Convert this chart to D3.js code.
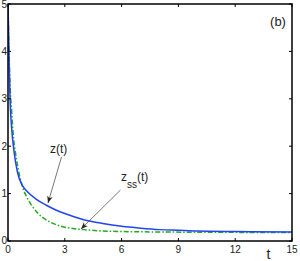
<!DOCTYPE html>
<html><head><meta charset="utf-8">
<script src="https://cdn.jsdelivr.net/npm/d3@7"></script>
<style>body{margin:0;background:#fff}svg{display:block}text{font-family:"Liberation Sans",Arial,sans-serif}</style>
</head><body>
<svg id="c" width="300" height="261"></svg>
<script>
const tZ = [0, 0.05, 0.1, 0.2, 0.3, 0.5, 0.75, 1, 1.5, 2, 2.5, 3, 4, 5, 6, 7, 8, 9, 10, 12, 15];
const zVals = [5, 4.0, 3.1, 2.35, 1.95, 1.45, 1.18, 1.05, 0.88, 0.76, 0.66, 0.58, 0.45, 0.37, 0.31, 0.27, 0.24, 0.225, 0.21, 0.2, 0.19];
const tSS = [0, 0.05, 0.1, 0.2, 0.3, 0.4, 0.6, 0.8, 1, 1.2, 1.5, 2, 2.5, 3, 3.5, 4, 5, 6, 8, 10, 15];
const zssVals = [5, 4.1, 3.4, 2.7, 2.15, 1.85, 1.4, 1.1, 0.92, 0.78, 0.62, 0.45, 0.35, 0.29, 0.26, 0.24, 0.21, 0.2, 0.19, 0.185, 0.18];
const xTicks = [0, 3, 6, 9, 12, 15];
const yTicks = [0, 1, 2, 3, 4, 5];

const svg = d3.select("#c");
const L = 8, R = 292, T = 4, B = 241;
const x = d3.scaleLinear().domain([0, 15]).range([L, R]);
const y = d3.scaleLinear().domain([0, 5]).range([B, T]);

const defs = svg.append("defs");
defs.append("marker").attr("id", "ah").attr("viewBox", "0 0 10 10").attr("refX", 10).attr("refY", 5)
  .attr("markerWidth", 7).attr("markerHeight", 7).attr("markerUnits", "userSpaceOnUse").attr("orient", "auto")
  .append("path").attr("d", "M0,1 L10,5 L0,9 L3,5 Z").attr("fill", "#222");

const clip = defs.append("clipPath").attr("id", "pc");
clip.append("rect").attr("x", L).attr("y", T).attr("width", R - L).attr("height", B - T);

const line = d3.line().x(d => x(d[0])).y(d => y(d[1])).curve(d3.curveMonotoneX);
const g = svg.append("g").attr("clip-path", "url(#pc)");
g.append("path").datum(tSS.map((t, i) => [t, zssVals[i]])).attr("d", line)
  .attr("fill", "none").attr("stroke", "#22aa22").attr("stroke-width", 1.5).attr("stroke-dasharray", "5,2,1.5,2");
g.append("path").datum(tZ.map((t, i) => [t, zVals[i]])).attr("d", line)
  .attr("fill", "none").attr("stroke", "#2244ee").attr("stroke-width", 1.5);

// axes box with inward ticks
const ax = svg.append("g").attr("stroke", "#000").attr("stroke-width", 1);
xTicks.forEach(v => {
  ax.append("line").attr("x1", x(v)).attr("x2", x(v)).attr("y1", B).attr("y2", B - 3);
  ax.append("line").attr("x1", x(v)).attr("x2", x(v)).attr("y1", T).attr("y2", T + 3);
});
yTicks.forEach(v => {
  ax.append("line").attr("x1", L).attr("x2", L + 3).attr("y1", y(v)).attr("y2", y(v));
  ax.append("line").attr("x1", R).attr("x2", R - 3).attr("y1", y(v)).attr("y2", y(v));
});
svg.append("rect").attr("x", L).attr("y", T).attr("width", R - L).attr("height", B - T)
  .attr("fill", "none").attr("stroke", "#000").attr("stroke-width", 1.5);

const lab = svg.append("g").attr("font-size", 10).attr("fill", "#222");
xTicks.forEach(v => lab.append("text").attr("x", x(v)).attr("y", 253).attr("text-anchor", "middle").text(v));
yTicks.forEach(v => lab.append("text").attr("x", 7).attr("y", Math.min(Math.max(y(v) + 3.5, 7.5), 244)).attr("text-anchor", "end").text(v));

svg.append("text").attr("x", 268.5).attr("y", 259).attr("text-anchor", "middle").attr("font-size", 14).attr("fill", "#222").text("t");
svg.append("text").attr("x", 278).attr("y", 26).attr("text-anchor", "middle").attr("font-size", 13).attr("fill", "#222").text("(b)");

// annotations
svg.append("text").attr("x", 50).attr("y", 153).attr("font-size", 12).attr("fill", "#222").text("z(t)");
svg.append("line").attr("x1", 61.5).attr("y1", 157).attr("x2", 48).attr("y2", 203)
  .attr("stroke", "#555").attr("stroke-width", 0.8).attr("marker-end", "url(#ah)");

const zs = svg.append("text").attr("x", 121).attr("y", 181).attr("font-size", 12).attr("fill", "#222");
zs.append("tspan").text("z");
zs.append("tspan").attr("dy", 7).attr("font-size", 10).text("ss");
zs.append("tspan").attr("dy", -7).text("(t)");
svg.append("line").attr("x1", 120.5).attr("y1", 190).attr("x2", 81).attr("y2", 229)
  .attr("stroke", "#555").attr("stroke-width", 0.8).attr("marker-end", "url(#ah)");
</script>
</body></html>
